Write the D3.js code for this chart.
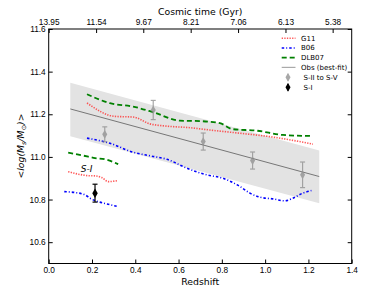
<!DOCTYPE html>
<html>
<head>
<meta charset="utf-8">
<script src="https://cdn.jsdelivr.net/npm/d3@7"></script>
<style>
  body { margin: 0; background: #fff; }
  svg { font-family: "DejaVu Sans", sans-serif; }
</style>
</head>
<body>
<script>
// Model curves (redshift, <log Ms>)
const g11Z = [0.177, 0.306, 0.39, 0.468, 0.538, 0.653, 0.745, 0.884, 1.022, 1.221];
const g11M = [11.253, 11.19, 11.187, 11.155, 11.145, 11.137, 11.126, 11.111, 11.095, 11.06];
const b06Z = [0.177, 0.283, 0.39, 0.468, 0.546, 0.639, 0.699, 0.73, 0.805, 0.884, 0.93, 0.976, 1.036, 1.091, 1.128, 1.174, 1.214];
const b06M = [11.088, 11.064, 11.022, 11.005, 10.989, 10.947, 10.925, 10.916, 10.9, 10.861, 10.83, 10.811, 10.803, 10.794, 10.806, 10.83, 10.842];
const dlbZ = [0.177, 0.283, 0.39, 0.482, 0.606, 0.699, 0.791, 0.851, 0.962, 1.082, 1.221];
const dlbM = [11.294, 11.252, 11.236, 11.21, 11.17, 11.168, 11.158, 11.13, 11.123, 11.103, 11.098];

// S-I sample model curves
const g11sZ = [0.09, 0.137, 0.183, 0.214, 0.245, 0.275, 0.321];
const g11sM = [10.931, 10.919, 10.912, 10.911, 10.903, 10.884, 10.889];
const b06sZ = [0.072, 0.121, 0.168, 0.191, 0.229, 0.275, 0.321];
const b06sM = [10.837, 10.833, 10.822, 10.806, 10.79, 10.778, 10.767];
const dlbsZ = [0.09, 0.183, 0.214, 0.26, 0.321];
const dlbsM = [11.02, 11.001, 10.994, 10.989, 10.966];

// Observed best fit and its band
const obsZ = [0.1, 1.25];
const obsFit = [11.225, 10.908];
const obsLo = [11.097, 10.783];
const obsHi = [11.348, 11.03];

// Samples S-II to S-V and S-I
const sZ = [0.259, 0.483, 0.714, 0.942, 1.173];
const sM = [11.106, 11.22, 11.072, 10.983, 10.916];
const sErr = [0.035, 0.045, 0.04, 0.04, 0.06];
const s1Z = [0.214];
const s1M = [10.83];
const s1Err = [0.042];

// Axes ticks
const xTicks = [0, 0.2, 0.4, 0.6, 0.8, 1.0, 1.2, 1.4];
const yTicks = [10.6, 10.8, 11.0, 11.2, 11.4, 11.6];
const topTickZ = [0, 0.219, 0.437, 0.656, 0.875, 1.094, 1.312];
const topTickLabels = ["13.95", "11.54", "9.67", "8.21", "7.06", "6.13", "5.38"];

const width = 390;
const height = 293;
const margin = { top: 29, right: 38.3, bottom: 29.5, left: 48.7 };

const x = d3.scaleLinear().domain([0, 1.4]).range([margin.left, width - margin.right]);
const y = d3.scaleLinear().domain([10.5, 11.6]).range([height - margin.bottom, margin.top]);

const svg = d3.select("body").append("svg")
  .attr("width", width)
  .attr("height", height)
  .attr("viewBox", [0, 0, width, height]);

const zip = (zs, ms) => zs.map((z, i) => ({ z: z, m: ms[i] }));
const line = d3.line().x(d => x(d.z)).y(d => y(d.m));

// Gray band
const band = d3.area()
  .x(d => x(d.z))
  .y0(d => y(d.lo))
  .y1(d => y(d.hi));
svg.append("path")
  .attr("d", band(obsZ.map((z, i) => ({ z: z, lo: obsLo[i], hi: obsHi[i] }))))
  .attr("fill", "#e3e3e3");

svg.append("path")
  .attr("d", line(zip(obsZ, obsFit)))
  .attr("fill", "none")
  .attr("stroke", "#777")
  .attr("stroke-width", 1);

// Model lines styles
const styles = {
  g11: { color: "#ff3030", dash: "1.3,1.3", width: 1.6, opacity: 0.8 },
  b06: { color: "#0000ff", dash: "2.5,2,1,2", width: 1.6, opacity: 1 },
  dlb: { color: "#008000", dash: "5,3", width: 1.8, opacity: 1 }
};

function drawLine(zs, ms, s) {
  svg.append("path")
    .attr("d", line.curve(d3.curveMonotoneX)(zip(zs, ms)))
    .attr("fill", "none")
    .attr("stroke", s.color)
    .attr("stroke-opacity", s.opacity)
    .attr("stroke-width", s.width)
    .attr("stroke-dasharray", s.dash);
}
drawLine(g11Z, g11M, styles.g11);
drawLine(b06Z, b06M, styles.b06);
drawLine(dlbZ, dlbM, styles.dlb);
drawLine(g11sZ, g11sM, styles.g11);
drawLine(b06sZ, b06sM, styles.b06);
drawLine(dlbsZ, dlbsM, styles.dlb);

// Error bar points
function drawPoints(zs, ms, errs, color, opacity, size) {
  const g = svg.append("g").attr("opacity", opacity);
  zs.forEach((z, i) => {
    const cx = x(z);
    g.append("line")
      .attr("x1", cx).attr("x2", cx)
      .attr("y1", y(ms[i] - errs[i])).attr("y2", y(ms[i] + errs[i]))
      .attr("stroke", color).attr("stroke-width", 1.2);
    [ms[i] - errs[i], ms[i] + errs[i]].forEach(v => {
      g.append("line")
        .attr("x1", cx - 2.5).attr("x2", cx + 2.5)
        .attr("y1", y(v)).attr("y2", y(v))
        .attr("stroke", color).attr("stroke-width", 1.2);
    });
    g.append("path")
      .attr("d", d3.symbol(d3.symbolDiamond, size)())
      .attr("transform", `translate(${cx},${y(ms[i])})`)
      .attr("fill", color);
  });
}
drawPoints(sZ, sM, sErr, "#8c8c8c", 0.75, 22);
drawPoints(s1Z, s1M, s1Err, "#000", 1, 26);

// S-I label
svg.append("text")
  .attr("x", x(0.148))
  .attr("y", y(10.93))
  .attr("font-size", 9)
  .attr("font-style", "italic")
  .text("S-I");

// Axes
const tickFont = g => g.selectAll("text").attr("font-size", 8.3).attr("fill", "#000");

svg.append("g")
  .attr("transform", `translate(0,${height - margin.bottom})`)
  .call(d3.axisBottom(x).tickValues(xTicks).tickFormat(d3.format(".1f")).tickSize(-4).tickSizeOuter(0).tickPadding(4))
  .call(tickFont);

svg.append("g")
  .attr("transform", `translate(${margin.left},0)`)
  .call(d3.axisLeft(y).tickValues(yTicks).tickFormat(d3.format(".1f")).tickSize(-4).tickSizeOuter(0).tickPadding(3))
  .call(tickFont);

svg.append("g")
  .attr("transform", `translate(${width - margin.right},0)`)
  .call(d3.axisRight(y).tickValues(yTicks).tickFormat("").tickSize(-4).tickSizeOuter(0));

svg.append("g")
  .attr("transform", `translate(0,${margin.top})`)
  .call(d3.axisTop(x).tickValues(topTickZ).tickFormat((d, i) => topTickLabels[i]).tickSize(-4).tickSizeOuter(0).tickPadding(4))
  .call(tickFont);

svg.selectAll(".domain").remove();

// Frame
svg.append("rect")
  .attr("x", margin.left)
  .attr("y", margin.top)
  .attr("width", width - margin.left - margin.right)
  .attr("height", height - margin.top - margin.bottom)
  .attr("fill", "none")
  .attr("stroke", "#000")
  .attr("stroke-width", 1);

// Axis titles
svg.append("text")
  .attr("x", (margin.left + width - margin.right) / 2)
  .attr("y", 285)
  .attr("text-anchor", "middle")
  .attr("font-size", 9.3)
  .text("Redshift");

svg.append("text")
  .attr("x", (margin.left + width - margin.right) / 2)
  .attr("y", 14.5)
  .attr("text-anchor", "middle")
  .attr("font-size", 9.3)
  .text("Cosmic time (Gyr)");

const yl = svg.append("text")
  .attr("transform", "translate(24,146) rotate(-90)")
  .attr("text-anchor", "middle")
  .attr("font-size", 9.3)
  .attr("font-style", "italic");
yl.append("tspan").text("<log(M");
yl.append("tspan").attr("font-size", 6.5).attr("dy", 2).text("s");
yl.append("tspan").attr("dy", -2).text("/M");
yl.append("tspan").attr("font-size", 6.5).attr("dy", 2).attr("font-style", "normal").text("⊙");
yl.append("tspan").attr("dy", -2).text(")>");

// Legend
const legend = svg.append("g").attr("font-size", 7);
const legendRows = [
  { label: "G11", s: styles.g11 },
  { label: "B06", s: styles.b06 },
  { label: "DLB07", s: styles.dlb },
  { label: "Obs (best-fit)", s: { color: "#aaa", dash: null, width: 1.2, opacity: 1 } }
];
legendRows.forEach((r, i) => {
  const ly = 38.3 + i * 9.7;
  legend.append("line")
    .attr("x1", 281.7).attr("x2", 295.5)
    .attr("y1", ly).attr("y2", ly)
    .attr("stroke", r.s.color)
    .attr("stroke-opacity", r.s.opacity)
    .attr("stroke-width", r.s.width)
    .attr("stroke-dasharray", r.s.dash);
  legend.append("text")
    .attr("x", 301)
    .attr("y", ly)
    .attr("dy", "0.35em")
    .text(r.label);
});
[
  { label: "S-II to S-V", color: "#8c8c8c", opacity: 0.75, ly: 77.3 },
  { label: "S-I", color: "#000", opacity: 1, ly: 87.3 }
].forEach(r => {
  const g = legend.append("g").attr("opacity", r.opacity);
  g.append("line")
    .attr("x1", 288).attr("x2", 288)
    .attr("y1", r.ly - 3.5).attr("y2", r.ly + 3.5)
    .attr("stroke", r.color).attr("stroke-width", 1.2);
  g.append("path")
    .attr("d", d3.symbol(d3.symbolDiamond, 22)())
    .attr("transform", `translate(288,${r.ly})`)
    .attr("fill", r.color);
  legend.append("text")
    .attr("x", 303.5)
    .attr("y", r.ly)
    .attr("dy", "0.35em")
    .text(r.label);
});
</script>
</body>
</html>
